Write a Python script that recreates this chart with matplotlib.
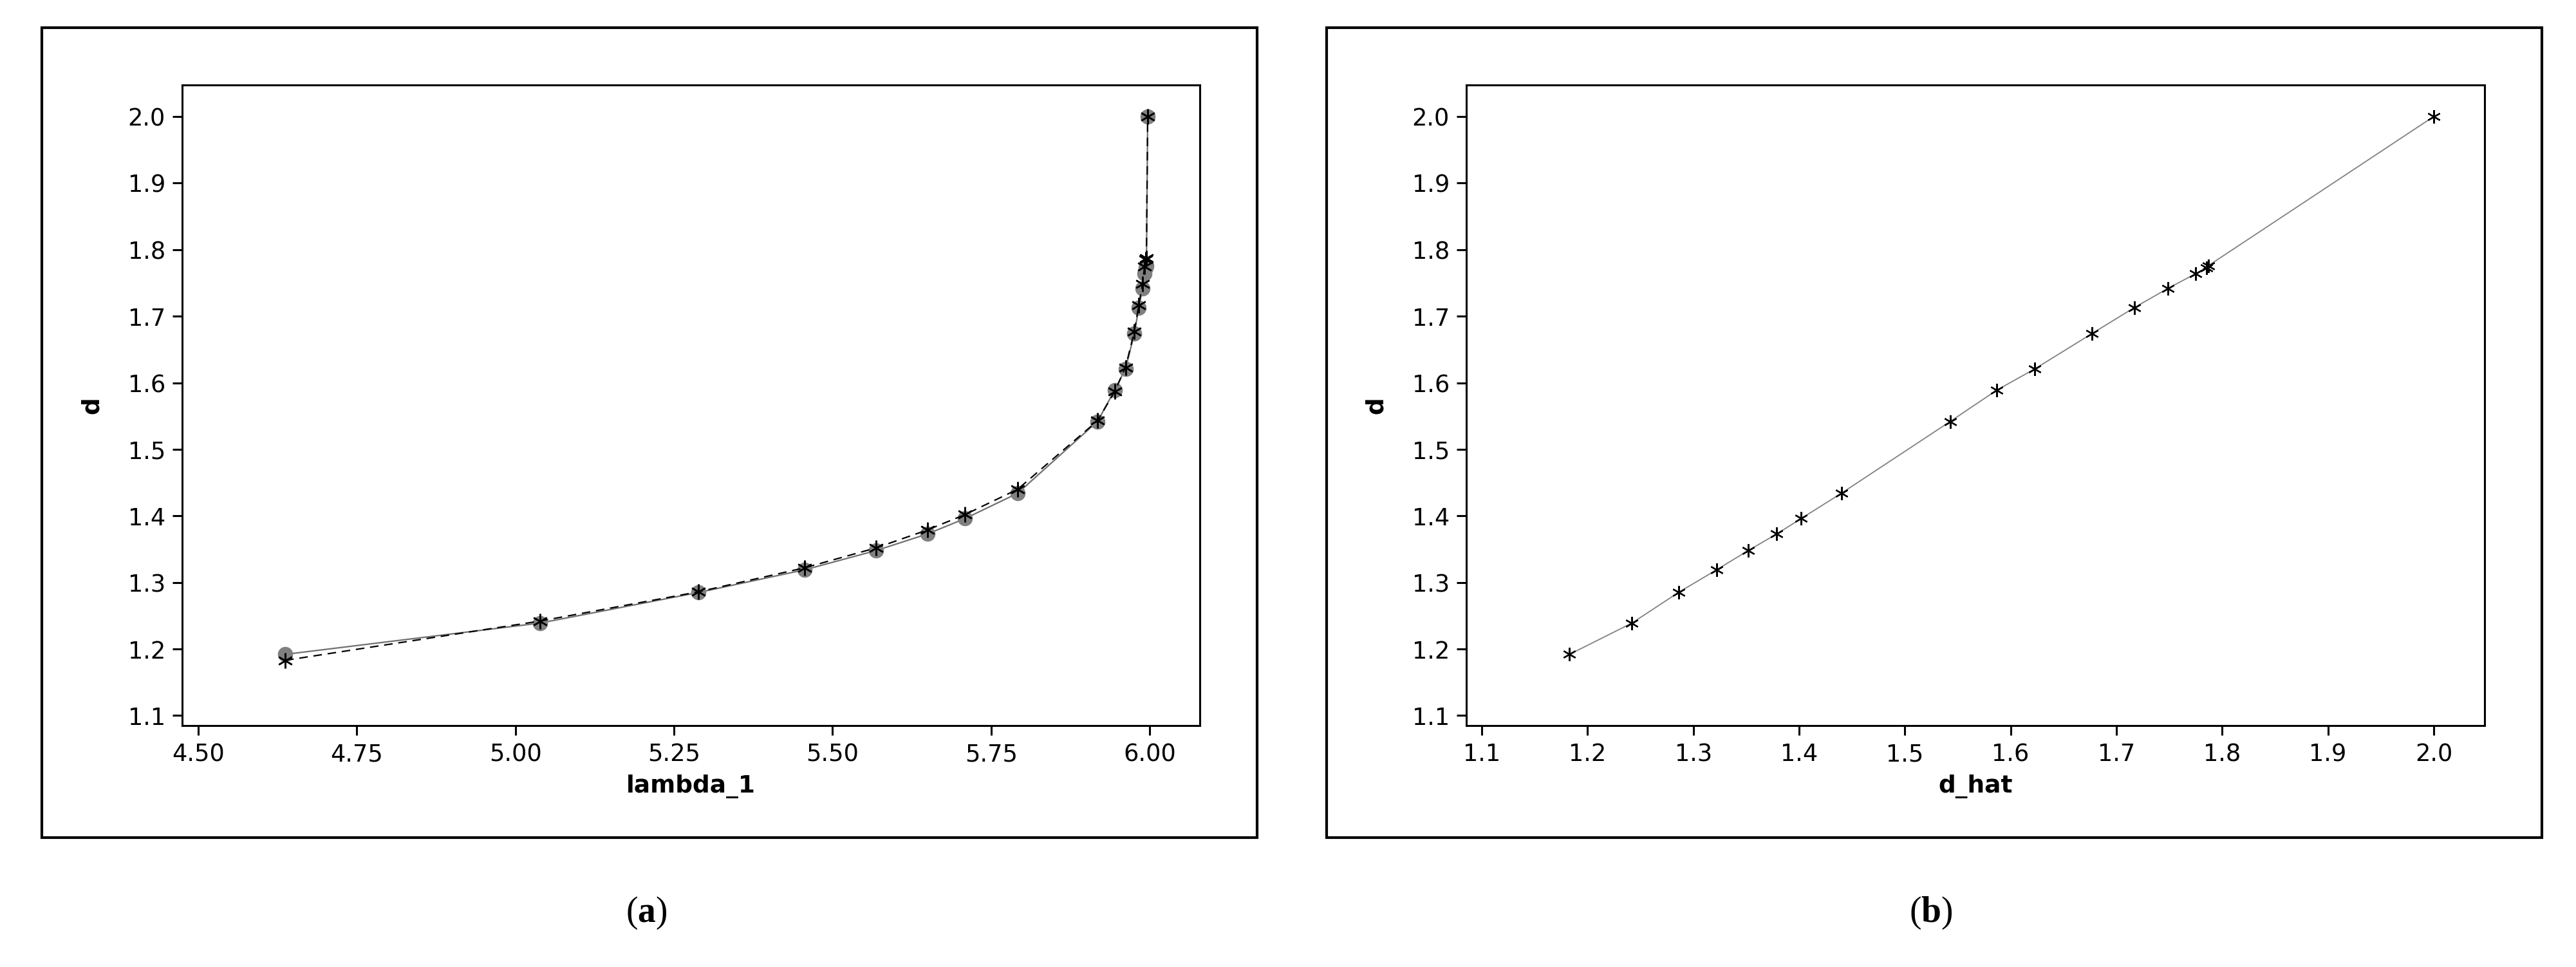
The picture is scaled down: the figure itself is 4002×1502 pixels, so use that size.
import matplotlib
matplotlib.use('Agg')
import matplotlib.pyplot as plt
from matplotlib.patches import Rectangle

W, H = 4002, 1502

# values
lambda_1 = [4.637, 5.039, 5.289, 5.456, 5.569, 5.650, 5.709, 5.792, 5.918,
            5.945, 5.962, 5.976, 5.983, 5.989, 5.992, 5.994, 5.995, 5.997]
d = [1.192, 1.239, 1.285, 1.319, 1.348, 1.373, 1.396, 1.434, 1.542,
     1.589, 1.621, 1.674, 1.713, 1.742, 1.764, 1.773, 1.776, 2.000]
d_hat = [1.183, 1.242, 1.286, 1.322, 1.352, 1.379, 1.402, 1.440, 1.543,
         1.587, 1.623, 1.677, 1.717, 1.749, 1.775, 1.785, 1.787, 2.000]

xticks_a = [4.50, 4.75, 5.00, 5.25, 5.50, 5.75, 6.00]
xticks_b = [1.1, 1.2, 1.3, 1.4, 1.5, 1.6, 1.7, 1.8, 1.9, 2.0]
yticks = [1.1, 1.2, 1.3, 1.4, 1.5, 1.6, 1.7, 1.8, 1.9, 2.0]

plt.rcParams['font.family'] = ['DejaVu Sans']
plt.rcParams['mathtext.fontset'] = 'custom'
plt.rcParams['mathtext.rm'] = 'Liberation Serif'
plt.rcParams['mathtext.bf'] = 'Liberation Serif:bold'

fig = plt.figure(figsize=(W / 100, H / 100), dpi=100)
fig.patch.set_facecolor('white')


# pixel box (top-left origin) -> figure fraction
def box(x0, y0, x1, y1):
    return [x0 / W, 1 - y1 / H, (x1 - x0) / W, (y1 - y0) / H]


# outer frames round each panel
for x0, x1 in [(65, 1953), (2061, 3949)]:
    b = box(x0, 43, x1, 1301)
    fig.add_artist(Rectangle((b[0], b[1]), b[2], b[3], transform=fig.transFigure,
                             fill=False, lw=3, ec='black'))

ax_a = fig.add_axes(box(283, 132, 1864, 1127))
ax_b = fig.add_axes(box(2278, 132, 3860, 1127))


def style(ax, xticks, fmt, xlim, xlabel, left_px):
    ax.set_xlim(xlim)
    ax.set_ylim(1.085, 2.0474)
    ax.set_xticks(xticks)
    ax.set_xticklabels([fmt.format(v) for v in xticks])
    ax.set_yticks(yticks)
    ax.set_yticklabels(['{:.1f}'.format(v) for v in yticks])
    ax.tick_params(direction='out', length=10.8, width=2.2, pad=8,
                   labelsize=26.5, top=False, right=False)
    for s in ax.spines.values():
        s.set_linewidth(2.2)
    ax.set_xlabel(xlabel, fontsize=27, fontweight='bold')
    ax.xaxis.set_label_coords(0.5, -(1203 - 1127) / 995)
    ax.set_ylabel('d', fontsize=27, fontweight='bold', va='center')
    ax.yaxis.set_label_coords(-140 / 1581, 0.5)


# (a) lambda_1 against d and d_hat
ax_a.plot(lambda_1, d, color='#707070', lw=1.6, marker='o', ms=16,
          mfc='#808080', mec='#808080', zorder=2)
ax_a.plot(lambda_1, d_hat, color='black', lw=1.6, ls=(0, (6, 4)),
          marker=(6, 2, 0), ms=17, mew=1.8, mec='black', zorder=3)
style(ax_a, xticks_a, '{:.2f}', (4.4746, 6.0792), 'lambda_1', 283)

# (b) d_hat against d
ax_b.plot(d_hat, d, color='#808080', lw=1.3, marker=(6, 2, 0), ms=15,
          mew=1.6, mec='black')
style(ax_b, xticks_b, '{:.1f}', (1.0854, 2.0481), 'd_hat', 2278)

fig.text(1004 / W, 1 - 1418 / H, r'($\mathbf{a}$)', fontsize=40,
         family='Liberation Serif', ha='center', va='center')
fig.text(3000 / W, 1 - 1418 / H, r'($\mathbf{b}$)', fontsize=40,
         family='Liberation Serif', ha='center', va='center')

fig.savefig('out.png', dpi=100, facecolor='white')
